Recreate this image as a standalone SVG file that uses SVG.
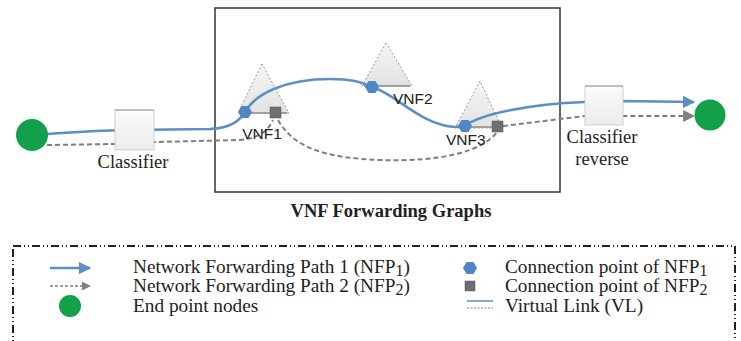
<svg xmlns="http://www.w3.org/2000/svg" width="741" height="341" viewBox="0 0 741 341">
<defs>
<style>
.serif{font-family:"Liberation Serif","Times New Roman",serif;fill:#222;}
.sans{font-family:"Liberation Sans",Arial,sans-serif;fill:#222;font-size:15.5px;}
.nfp1{fill:none;stroke:#5b8fc6;stroke-width:2.5;}
.nfp2{fill:none;stroke:#7f7f7f;stroke-width:2;stroke-dasharray:5 3;}
.tri{fill:url(#triFill);stroke:#9a9a9a;stroke-width:1;stroke-dasharray:2 2;}
.base{stroke:#8c8c8c;stroke-width:1.5;}
.box{fill:url(#boxFill);stroke:#cfcfcf;stroke-width:1;}
.end{fill:#12a04a;}
.cp1{fill:#4f86c6;}
.cp2{fill:#6f6f6f;stroke:#555;stroke-width:0.5;}
.leg{font-size:19.3px;}
</style>
<linearGradient id="triFill" x1="0" y1="0" x2="0" y2="1">
<stop offset="0" stop-color="#f6f6f6"/>
<stop offset="1" stop-color="#e2e2e2"/>
</linearGradient>
<linearGradient id="boxFill" x1="0" y1="0" x2="0" y2="1">
<stop offset="0" stop-color="#fbfbfb"/>
<stop offset="1" stop-color="#ececec"/>
</linearGradient>
<marker id="arrBlue" viewBox="0 0 10 10" refX="9" refY="5" markerWidth="5" markerHeight="5" orient="auto" markerUnits="strokeWidth">
<path d="M0,0 L10,5 L0,10 z" fill="#5b8fc6"/>
</marker>
<marker id="arrGrey" viewBox="0 0 10 10" refX="9" refY="5" markerWidth="6" markerHeight="6" orient="auto" markerUnits="strokeWidth">
<path d="M0,0 L10,5 L0,10 z" fill="#7f7f7f"/>
</marker>
<polygon id="hex" points="7,0 3.5,6 -3.5,6 -7,0 -3.5,-6 3.5,-6"/>
</defs>

<rect width="741" height="341" fill="#ffffff"/>

<g id="vnffg-box">
<rect x="215" y="8" width="345" height="184" fill="#ffffff" stroke="#333" stroke-width="1.5"/>
<text class="serif" x="391" y="217" font-size="18.5" font-weight="bold" text-anchor="middle">VNF Forwarding Graphs</text>
</g>

<g id="vnf1">
<polygon class="tri" points="262,64 238,113 289,113"/>
<line class="base" x1="240" y1="113" x2="287" y2="113"/>
</g>
<g id="vnf2">
<polygon class="tri" points="386,43 362,86 412,86"/>
<line class="base" x1="364" y1="86" x2="410" y2="86"/>
</g>
<g id="vnf3">
<polygon class="tri" points="480,81 455,128 502,128"/>
<line class="base" x1="458" y1="127" x2="500" y2="127"/>
</g>

<g id="connectors">
<path class="nfp1" marker-end="url(#arrBlue)" d="M47,134 C80,132 100,130 130,130 L210,129 C232,128 240,120 245,112 C255,94 285,79 330,79 C355,79 362,83 372,87 C395,93 420,125 455,127 L465,126 C480,114 530,104 585,102 L623,101 L694,102"/>
<path class="nfp2" d="M47,145 L115,144 L154,142 L240,140 Q265,138 273,120"/>
<path class="nfp2" d="M278,120 C295,150 330,158 380,160 C440,162 482,152 497,132"/>
<path class="nfp2" marker-end="url(#arrGrey)" d="M503,126 L585,116 L623,116 L694,116"/>
</g>

<g id="end-left"><circle class="end" cx="32" cy="135" r="16"/></g>
<g id="classifier">
<rect class="box" x="115" y="110" width="39" height="40"/>
<line x1="115" y1="110" x2="154" y2="110" stroke="#999" stroke-width="1"/>
<text class="serif" x="133" y="168" font-size="18.5" text-anchor="middle">Classifier</text>
</g>
<g id="classifier-reverse">
<rect class="box" x="585" y="86" width="38" height="39"/>
<line x1="585" y1="86" x2="623" y2="86" stroke="#999" stroke-width="1"/>
<text class="serif" x="602" y="143" font-size="18.5" text-anchor="middle">Classifier</text>
<text class="serif" x="602" y="165" font-size="18.5" text-anchor="middle">reverse</text>
</g>
<g id="end-right"><circle class="end" cx="710" cy="115" r="15.5"/></g>

<g id="cp-vnf1">
<use href="#hex" class="cp1" x="245" y="112"/>
<rect class="cp2" x="270" y="107" width="11" height="11"/>
<text class="sans" x="262" y="139" text-anchor="middle">VNF1</text>
</g>
<g id="cp-vnf2">
<use href="#hex" class="cp1" x="372" y="87"/>
<text class="sans" x="393" y="104">VNF2</text>
</g>
<g id="cp-vnf3">
<use href="#hex" class="cp1" x="465" y="126"/>
<rect class="cp2" x="492" y="121" width="11" height="11"/>
<text class="sans" x="446" y="145">VNF3</text>
</g>

<g id="legend">
<rect x="13" y="246" width="722" height="110" fill="none" stroke="#222" stroke-width="2" stroke-dasharray="8 3 1 3 1 3"/>
<line x1="50" y1="268" x2="90" y2="268" class="nfp1" stroke-width="2" marker-end="url(#arrBlue)"/>
<text class="serif leg" x="133" y="273">Network Forwarding Path 1 (NFP<tspan font-size="16" dy="3">1</tspan><tspan dy="-3">)</tspan></text>
<line x1="50" y1="286" x2="90" y2="286" stroke="#7f7f7f" stroke-width="1.5" stroke-dasharray="3 2" marker-end="url(#arrGrey)"/>
<text class="serif leg" x="133" y="292">Network Forwarding Path 2 (NFP<tspan font-size="16" dy="3">2</tspan><tspan dy="-3">)</tspan></text>
<circle class="end" cx="70" cy="306" r="11"/>
<text class="serif leg" x="133" y="312">End point nodes</text>
<use href="#hex" class="cp1" x="470" y="268"/>
<text class="serif leg" x="505" y="273">Connection point of NFP<tspan font-size="16" dy="3">1</tspan></text>
<rect class="cp2" x="465" y="281" width="10" height="10"/>
<text class="serif leg" x="505" y="292">Connection point of NFP<tspan font-size="16" dy="3">2</tspan></text>
<line x1="467" y1="301" x2="493" y2="301" stroke="#5b8fc6" stroke-width="1.5"/>
<line x1="467" y1="308" x2="493" y2="308" stroke="#7f7f7f" stroke-width="1" stroke-dasharray="2 1.5"/>
<text class="serif leg" x="505" y="312">Virtual Link (VL)</text>
</g>
</svg>
